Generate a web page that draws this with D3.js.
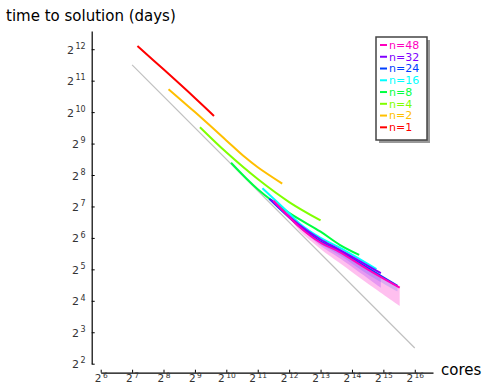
<!DOCTYPE html>
<html>
<head>
<meta charset="utf-8">
<script src="https://cdn.jsdelivr.net/npm/d3@7"></script>
<style>
  body { margin: 0; background: #fff; }
  text { font-family: "DejaVu Sans", sans-serif; }
</style>
</head>
<body>
<div id="chart"></div>
<script>
// series: cores vs time to solution (days)
var seriesNames = ["n=1", "n=2", "n=4", "n=8", "n=16", "n=24", "n=32", "n=48"];
var seriesColours = ["#ff0000", "#ffbf00", "#80ff00", "#00ff40", "#00ffff", "#0040ff", "#8000ff", "#ff00bf"];

var coresN1 = [144, 256, 512, 780];
var daysN1 = [4390, 2628, 1399, 942];
var coresN2 = [286, 512, 1024, 1489, 2048, 3517];
var daysN2 = [1699, 1024, 549, 391, 304, 212];
var coresN4 = [572, 1024, 2048, 4096, 8192];
var daysN4 = [734, 422, 234, 141, 94];
var coresN8 = [1136, 2048, 4096, 8192, 12503, 19220];
var daysN8 = [335, 187, 111, 73.5, 55, 44];
var coresN16 = [2272, 4096, 5186, 8192, 12503, 28135];
var daysN16 = [191, 110, 87.4, 64, 51.6, 32.2];
var coresN24 = [2640, 5186, 8192, 12503, 23170, 44770];
var daysN24 = [152, 82.1, 58.9, 47.8, 33.1, 22.2];
var coresN32 = [2730, 5186, 8192, 12503, 31000];
var daysN32 = [149, 84.4, 61.8, 49.2, 29.4];
var coresN48 = [2896, 5186, 8192, 12503, 23170, 46990];
var daysN48 = [145, 81.0, 57.7, 46.9, 32, 21.4];

// spread bands below the n=24, n=32, n=48 curves
var bandCoresN24 = [8192, 12503, 23170, 44770];
var bandLowN24 = [55.7, 43.7, 28.8, 19.7];
var bandHighN24 = [58.9, 47.8, 33.1, 22.2];
var bandCoresN32 = [5186, 8192, 12503, 31000];
var bandLowN32 = [80.2, 53.8, 40.8, 21.3];
var bandHighN32 = [84.4, 61.8, 49.2, 29.4];
var bandCoresN48 = [4096, 5186, 8192, 12503, 23170, 46990];
var bandLowN48 = [101, 74.5, 50.2, 36.8, 23.4, 14.3];
var bandHighN48 = [101, 81.0, 57.7, 46.9, 32, 21.4];

// ideal scaling line
var idealCores = [128, 65536];
var idealDays = [2896, 5.66];

var xTickExps = [6, 7, 8, 9, 10, 11, 12, 13, 14, 15, 16];
var yTickExps = [2, 3, 4, 5, 6, 7, 8, 9, 10, 11, 12];

var allCores = [coresN1, coresN2, coresN4, coresN8, coresN16, coresN24, coresN32, coresN48];
var allDays = [daysN1, daysN2, daysN4, daysN8, daysN16, daysN24, daysN32, daysN48];

var width = 483, height = 385;

var svg = d3.select("#chart").append("svg")
    .attr("width", width)
    .attr("height", height);

var x = d3.scaleLog().base(2)
    .domain([64, 98000])
    .range([100.7, 433]);

var y = d3.scaleLog().base(2)
    .domain([4, 6120])
    .range([363.7, 31]);

function supLabels(sel, anchor, base, sup) {
    sel.selectAll(".tick text").each(function(d) {
        var t = d3.select(this);
        var e = Math.round(Math.log2(d));
        t.text("");
        t.append("tspan").attr("font-size", base).text("2");
        t.append("tspan").attr("font-size", sup).attr("dy", "-0.6em").attr("dx", 1.5).text(e);
    });
    sel.selectAll(".tick text").attr("fill", "#333").attr("text-anchor", anchor);
}

var xAxis = svg.append("g")
    .attr("transform", "translate(0,372.7)")
    .call(d3.axisBottom(x)
        .tickValues(xTickExps.map(e => Math.pow(2, e)))
        .tickSize(-3)
        .tickSizeOuter(0)
        .tickPadding(5));
xAxis.select(".domain").attr("stroke", "#000").attr("stroke-width", 1.2);
xAxis.selectAll(".tick line").attr("stroke", "#000");
supLabels(xAxis, "middle", 10.5, 7.5);
xAxis.selectAll(".tick text").attr("y", 9.6).attr("dy", 0);

var yAxis = svg.append("g")
    .attr("transform", "translate(91.7,0)")
    .call(d3.axisLeft(y)
        .tickValues(yTickExps.map(e => Math.pow(2, e)))
        .tickSize(-3)
        .tickSizeOuter(0)
        .tickPadding(5));
yAxis.select(".domain").attr("stroke", "#000").attr("stroke-width", 1.2);
yAxis.selectAll(".tick line").attr("stroke", "#000");
supLabels(yAxis, "end", 11, 8);
yAxis.selectAll(".tick text").attr("x", -6).attr("dy", "0.4em");

// ideal line
svg.append("path")
    .datum(d3.zip(idealCores, idealDays))
    .attr("fill", "none")
    .attr("stroke", "#c0c0c0")
    .attr("stroke-width", 1.2)
    .attr("d", d3.line().x(d => x(d[0])).y(d => y(d[1])));

// bands
var area = d3.area()
    .curve(d3.curveCatmullRom.alpha(0.5))
    .x(d => x(d[0]))
    .y0(d => y(d[1]))
    .y1(d => y(d[2]));

[[bandCoresN48, bandLowN48, bandHighN48, seriesColours[7], 0.25],
 [bandCoresN32, bandLowN32, bandHighN32, seriesColours[6], 0.2],
 [bandCoresN24, bandLowN24, bandHighN24, seriesColours[5], 0.15]].forEach(function(b) {
    svg.append("path")
        .datum(d3.zip(b[0], b[1], b[2]))
        .attr("fill", b[3])
        .attr("fill-opacity", b[4])
        .attr("stroke", "none")
        .attr("d", area);
});

// curves
var line = d3.line()
    .curve(d3.curveCatmullRom.alpha(0.5))
    .x(d => x(d[0]))
    .y(d => y(d[1]));

seriesNames.forEach(function(name, i) {
    svg.append("path")
        .datum(d3.zip(allCores[i], allDays[i]))
        .attr("fill", "none")
        .attr("stroke", seriesColours[i])
        .attr("stroke-width", 2)
        .attr("d", line);
});

// axis titles
svg.append("text")
    .attr("x", 6)
    .attr("y", 21)
    .attr("font-size", 15)
    .attr("fill", "#000")
    .text("time to solution (days)");

svg.append("text")
    .attr("x", 441)
    .attr("y", 375)
    .attr("font-size", 15)
    .attr("fill", "#000")
    .text("cores");

// legend
var legend = svg.append("g").attr("transform", "translate(376,37)");
legend.append("rect")
    .attr("x", 3).attr("y", 3)
    .attr("width", 51).attr("height", 103)
    .attr("fill", "#999");
legend.append("rect")
    .attr("width", 51).attr("height", 103)
    .attr("fill", "#fff")
    .attr("stroke", "#444")
    .attr("stroke-width", 1.5);

var legendOrder = seriesNames.map((n, i) => i).reverse();
legendOrder.forEach(function(i, k) {
    var row = legend.append("g").attr("transform", "translate(0," + (8 + k * 11.76) + ")");
    row.append("line")
        .attr("x1", 4).attr("x2", 11)
        .attr("stroke", seriesColours[i])
        .attr("stroke-width", 2);
    row.append("text")
        .attr("x", 13)
        .attr("dy", "0.35em")
        .attr("font-size", 11)
        .attr("fill", seriesColours[i])
        .text(seriesNames[i]);
});
</script>
</body>
</html>
